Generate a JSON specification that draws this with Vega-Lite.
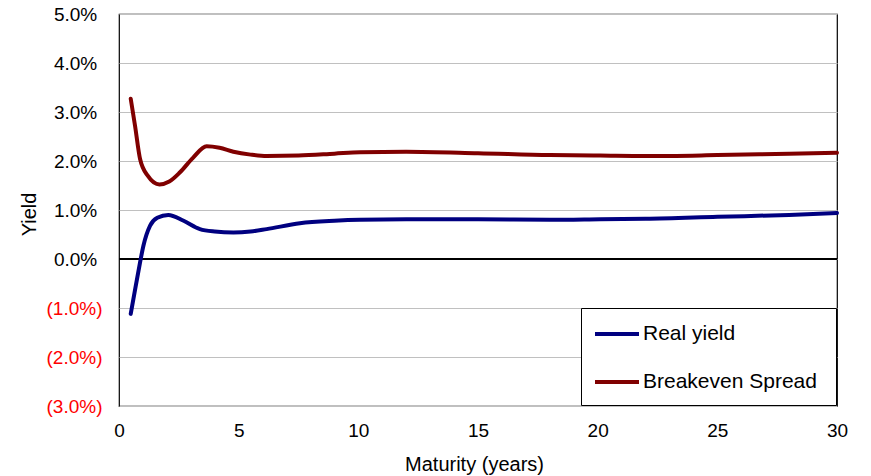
{
  "$schema": "https://vega.github.io/schema/vega-lite/v6.json",
  "width": 718,
  "height": 392,
  "autosize": "none",
  "padding": {"left": 119, "top": 14, "right": 34, "bottom": 70},
  "background": "white",
  "config": {
    "font": "Liberation Sans",
    "view": {"stroke": "#000", "strokeWidth": 1.2},
    "axis": {"labelFont": "Liberation Sans", "titleFont": "Liberation Sans", "labelColor": "#000", "titleColor": "#000", "titleFontWeight": "normal"}
  },
  "data": {"values": [
    {"maturity": 0.49, "yield": -1.12, "series": "Real yield"},
    {"maturity": 0.7, "yield": -0.55, "series": "Real yield"},
    {"maturity": 0.88, "yield": -0.07, "series": "Real yield"},
    {"maturity": 1.02, "yield": 0.27, "series": "Real yield"},
    {"maturity": 1.3, "yield": 0.68, "series": "Real yield"},
    {"maturity": 1.6, "yield": 0.84, "series": "Real yield"},
    {"maturity": 2.06, "yield": 0.9, "series": "Real yield"},
    {"maturity": 2.7, "yield": 0.78, "series": "Real yield"},
    {"maturity": 3.38, "yield": 0.61, "series": "Real yield"},
    {"maturity": 4.0, "yield": 0.56, "series": "Real yield"},
    {"maturity": 4.78, "yield": 0.54, "series": "Real yield"},
    {"maturity": 5.5, "yield": 0.56, "series": "Real yield"},
    {"maturity": 6.17, "yield": 0.61, "series": "Real yield"},
    {"maturity": 7.56, "yield": 0.73, "series": "Real yield"},
    {"maturity": 9.0, "yield": 0.78, "series": "Real yield"},
    {"maturity": 10.07, "yield": 0.8, "series": "Real yield"},
    {"maturity": 12, "yield": 0.81, "series": "Real yield"},
    {"maturity": 15, "yield": 0.81, "series": "Real yield"},
    {"maturity": 18, "yield": 0.8, "series": "Real yield"},
    {"maturity": 20.1, "yield": 0.81, "series": "Real yield"},
    {"maturity": 22, "yield": 0.82, "series": "Real yield"},
    {"maturity": 25, "yield": 0.86, "series": "Real yield"},
    {"maturity": 28, "yield": 0.9, "series": "Real yield"},
    {"maturity": 30, "yield": 0.94, "series": "Real yield"},
    {"maturity": 0.49, "yield": 3.27, "series": "Breakeven Spread"},
    {"maturity": 0.67, "yield": 2.72, "series": "Breakeven Spread"},
    {"maturity": 0.88, "yield": 2.04, "series": "Breakeven Spread"},
    {"maturity": 1.2, "yield": 1.7, "series": "Breakeven Spread"},
    {"maturity": 1.69, "yield": 1.52, "series": "Breakeven Spread"},
    {"maturity": 2.1, "yield": 1.58, "series": "Breakeven Spread"},
    {"maturity": 2.55, "yield": 1.77, "series": "Breakeven Spread"},
    {"maturity": 3.1, "yield": 2.07, "series": "Breakeven Spread"},
    {"maturity": 3.66, "yield": 2.3, "series": "Breakeven Spread"},
    {"maturity": 4.2, "yield": 2.27, "series": "Breakeven Spread"},
    {"maturity": 4.78, "yield": 2.19, "series": "Breakeven Spread"},
    {"maturity": 5.5, "yield": 2.13, "series": "Breakeven Spread"},
    {"maturity": 6.17, "yield": 2.1, "series": "Breakeven Spread"},
    {"maturity": 7.5, "yield": 2.11, "series": "Breakeven Spread"},
    {"maturity": 9, "yield": 2.15, "series": "Breakeven Spread"},
    {"maturity": 10.07, "yield": 2.18, "series": "Breakeven Spread"},
    {"maturity": 12, "yield": 2.19, "series": "Breakeven Spread"},
    {"maturity": 15, "yield": 2.16, "series": "Breakeven Spread"},
    {"maturity": 18, "yield": 2.12, "series": "Breakeven Spread"},
    {"maturity": 20.1, "yield": 2.11, "series": "Breakeven Spread"},
    {"maturity": 22, "yield": 2.1, "series": "Breakeven Spread"},
    {"maturity": 25, "yield": 2.12, "series": "Breakeven Spread"},
    {"maturity": 28, "yield": 2.15, "series": "Breakeven Spread"},
    {"maturity": 30, "yield": 2.17, "series": "Breakeven Spread"}
  ]},
  "layer": [
    {
      "mark": {"type": "rule", "color": "#000", "strokeWidth": 1.2},
      "encoding": {"y": {"datum": 0, "type": "quantitative", "scale": {"domain": [-3, 5], "nice": false, "zero": false}}}
    },
    {
      "mark": {"type": "line", "interpolate": "monotone", "strokeWidth": 4, "strokeCap": "round"},
      "encoding": {
        "x": {
          "field": "maturity", "type": "quantitative",
          "scale": {"domain": [0, 30], "nice": false, "zero": false},
          "axis": {
            "title": "Maturity (years)", "values": [0, 5, 10, 15, 20, 25, 30], "grid": false, "ticks": false, "domain": false,
            "labelFlush": false, "labelFontSize": 19, "labelPadding": 15, "titleFontSize": 20,
            "titleX": 355, "titleY": 64, "titleBaseline": "alphabetic", "titleAlign": "center"
          }
        },
        "y": {
          "field": "yield", "type": "quantitative",
          "scale": {"domain": [-3, 5], "nice": false, "zero": false},
          "axis": {
            "title": "Yield", "values": [-3, -2, -1, 0, 1, 2, 3, 4, 5], "grid": true, "gridColor": "#c0c0c0", "gridWidth": 1.2,
            "ticks": false, "domain": false, "labelFlush": false, "labelFontSize": 19, "labelPadding": 17,
            "labelExpr": "datum.value < 0 ? '(' + format(-datum.value, '.1f') + '%)' : format(datum.value, '.1f') + '%\u00a0\u200b'",
            "labelColor": {"condition": {"test": "datum.value < 0", "value": "#ff0000"}, "value": "#000000"},
            "titleFontSize": 20, "titleAngle": -90, "titleX": -84, "titleY": 200, "titleBaseline": "alphabetic", "titleAlign": "center"
          }
        },
        "color": {
          "field": "series", "type": "nominal",
          "scale": {"domain": ["Real yield", "Breakeven Spread"], "range": ["#000080", "#800000"]},
          "legend": {
            "title": null, "orient": "bottom-right", "offset": 1,
            "symbolType": "M-2,0H2", "symbolSize": 484, "symbolStrokeWidth": 4,
            "symbolOffset": 10, "labelOffset": 13, "labelFontSize": 21, "labelFont": "Liberation Sans", "labelColor": "#000",
            "labelExpr": "datum.label + '\u00a0\u200b'", "labelLimit": 400,
            "padding": 13, "rowPadding": 25, "strokeColor": "#000", "fillColor": "#fff"
          }
        }
      }
    }
  ]
}
